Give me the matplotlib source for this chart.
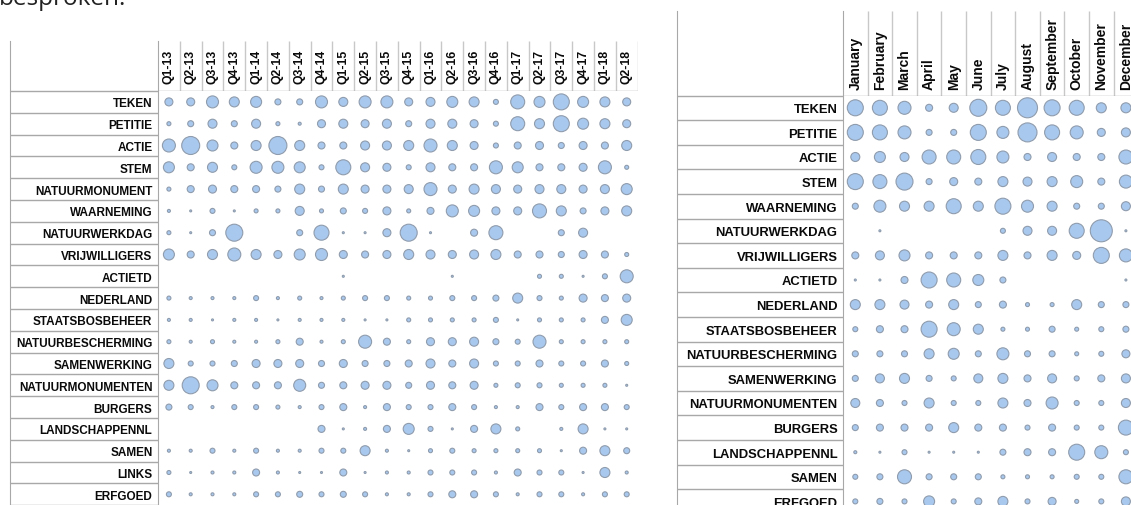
import numpy as np
import matplotlib
matplotlib.use("Agg")
import matplotlib.pyplot as plt

# --- data: bubble weight per term per period ---
quarters = ["Q1-13", "Q2-13", "Q3-13", "Q4-13", "Q1-14", "Q2-14", "Q3-14", "Q4-14",
            "Q1-15", "Q2-15", "Q3-15", "Q4-15", "Q1-16", "Q2-16", "Q3-16", "Q4-16",
            "Q1-17", "Q2-17", "Q3-17", "Q4-17", "Q1-18", "Q2-18"]
months = ["January", "February", "March", "April", "May", "June", "July",
          "August", "September", "October", "November", "December"]

quarter_terms = ["TEKEN", "PETITIE", "ACTIE", "STEM", "NATUURMONUMENT", "WAARNEMING",
                 "NATUURWERKDAG", "VRIJWILLIGERS", "ACTIETD", "NEDERLAND",
                 "STAATSBOSBEHEER", "NATUURBESCHERMING", "SAMENWERKING",
                 "NATUURMONUMENTEN", "BURGERS", "LANDSCHAPPENNL", "SAMEN", "LINKS", "ERFGOED"]
quarter_counts = [
    [8, 8, 12, 10, 11, 6, 6, 12, 9, 12, 12, 8, 9, 11, 10, 5, 14, 11, 16, 11, 10, 8],
    [4, 6, 9, 6, 9, 4, 3, 8, 9, 8, 9, 6, 9, 9, 8, 5, 14, 10, 16, 11, 10, 8],
    [13, 18, 11, 7, 10, 18, 10, 7, 7, 9, 9, 10, 13, 10, 8, 5, 7, 8, 6, 8, 7, 10],
    [11, 7, 10, 5, 12, 12, 11, 5, 15, 9, 8, 5, 9, 7, 7, 13, 11, 7, 7, 8, 13, 4],
    [4, 7, 8, 7, 7, 6, 10, 6, 10, 8, 8, 9, 13, 8, 10, 9, 8, 9, 9, 8, 9, 11],
    [3, 2, 5, 2, 4, 4, 9, 4, 6, 5, 8, 4, 7, 12, 11, 8, 8, 14, 10, 6, 8, 10],
    [4, 2, 6, 17, 0, 0, 6, 15, 2, 2, 8, 17, 2, 0, 7, 14, 0, 0, 6, 9, 0, 0],
    [11, 7, 10, 13, 10, 8, 11, 12, 8, 7, 8, 10, 9, 8, 9, 10, 7, 7, 6, 8, 7, 4],
    [0, 0, 0, 0, 0, 0, 0, 0, 2, 0, 0, 0, 0, 2, 0, 0, 0, 4, 4, 2, 5, 13],
    [4, 3, 3, 3, 5, 3, 4, 3, 4, 5, 5, 4, 4, 5, 5, 6, 10, 5, 4, 8, 7, 8],
    [3, 3, 2, 3, 3, 2, 3, 3, 3, 2, 2, 4, 4, 4, 4, 5, 2, 4, 4, 4, 7, 11],
    [4, 3, 4, 3, 3, 4, 7, 3, 4, 13, 7, 4, 8, 8, 9, 6, 5, 13, 4, 4, 4, 4],
    [10, 5, 5, 6, 8, 8, 8, 6, 8, 6, 6, 7, 9, 7, 9, 5, 5, 7, 5, 5, 7, 4],
    [10, 17, 11, 7, 7, 7, 12, 6, 7, 8, 8, 6, 8, 7, 8, 4, 5, 5, 4, 4, 4, 2],
    [6, 5, 3, 5, 5, 4, 3, 5, 7, 3, 7, 5, 5, 7, 5, 3, 3, 7, 5, 7, 7, 5],
    [0, 0, 0, 0, 0, 0, 0, 7, 2, 3, 7, 11, 5, 2, 7, 10, 4, 0, 3, 10, 2, 2],
    [3, 3, 5, 3, 5, 3, 3, 5, 5, 10, 3, 2, 4, 5, 4, 4, 4, 4, 2, 7, 10, 6],
    [4, 2, 3, 3, 7, 3, 2, 2, 7, 2, 3, 3, 5, 5, 5, 3, 7, 5, 5, 2, 10, 3],
    [5, 3, 3, 3, 5, 5, 6, 5, 6, 5, 3, 3, 5, 7, 7, 5, 3, 5, 5, 3, 5, 5],
]

month_terms = ["TEKEN", "PETITIE", "ACTIE", "STEM", "WAARNEMING", "NATUURWERKDAG",
               "VRIJWILLIGERS", "ACTIETD", "NEDERLAND", "STAATSBOSBEHEER",
               "NATUURBESCHERMING", "SAMENWERKING", "NATUURMONUMENTEN", "BURGERS",
               "LANDSCHAPPENNL", "SAMEN", "ERFGOED"]
month_counts = [
    [16, 15, 13, 7, 9, 17, 15, 20, 16, 15, 10, 10],
    [16, 15, 13, 6, 6, 16, 12, 19, 15, 13, 8, 9],
    [9, 11, 9, 14, 14, 15, 12, 7, 9, 7, 7, 14],
    [16, 14, 17, 6, 8, 7, 10, 9, 10, 12, 7, 13],
    [6, 12, 10, 10, 15, 10, 16, 12, 10, 6, 6, 9],
    [0, 2, 0, 0, 0, 0, 5, 9, 9, 15, 22, 2],
    [7, 9, 11, 7, 7, 7, 10, 7, 10, 8, 16, 13],
    [2, 2, 7, 16, 14, 11, 6, 0, 0, 0, 0, 2],
    [10, 10, 9, 7, 10, 6, 7, 4, 4, 10, 6, 6],
    [5, 7, 7, 16, 13, 10, 4, 4, 6, 4, 5, 6],
    [6, 6, 6, 10, 11, 6, 12, 6, 6, 4, 5, 8],
    [6, 9, 10, 6, 5, 9, 10, 7, 9, 5, 7, 9],
    [9, 7, 5, 10, 5, 5, 10, 7, 12, 5, 5, 9],
    [6, 7, 7, 7, 10, 7, 7, 5, 7, 5, 5, 15],
    [3, 2, 5, 2, 2, 2, 6, 7, 7, 16, 13, 5],
    [5, 6, 14, 6, 6, 6, 4, 4, 4, 5, 5, 14],
    [5, 6, 5, 11, 5, 7, 10, 5, 8, 4, 5, 9],
]

W, H = 1131, 506
FILL = "#a8c8ee"
EDGE = "#8f9cad"
GRID = "#a8a8a8"
HEAD_GRID = "#c8c8c8"
FONT = "Liberation Sans"

fig = plt.figure(figsize=(W / 100, H / 100), dpi=100)


def px_axes(x0, y0, x1, y1):
    # axes placed by screen pixels (origin top-left)
    ax = fig.add_axes([x0 / W, 1 - y1 / H, (x1 - x0) / W, (y1 - y0) / H])
    ax.patch.set_alpha(0)
    return ax


def balloon_panel(terms, cols, counts, lab_x0, col_x0, cell_w, head_top, head_bot,
                  cell_h, label_fs, head_fs, head_gap):
    n_r, n_c = len(terms), len(cols)
    x1 = col_x0 + n_c * cell_w
    y1 = head_bot + n_r * cell_h

    # label column with row rules
    lab = px_axes(lab_x0, head_top, col_x0, y1)
    lab.set_xlim(0, 1)
    lab.set_ylim(n_r - 0.5, -0.5 - (head_bot - head_top) / cell_h)
    lab.hlines(np.arange(-1, n_r) + 0.5, 0, 1, color=GRID, lw=1)
    lab.set_xticks([])
    lab.set_yticks([])
    for side in ("top", "bottom"):
        lab.spines[side].set_visible(False)
    for side in ("left", "right"):
        lab.spines[side].set_color(GRID)

    # column header
    hd = px_axes(col_x0, head_top, x1, head_bot)
    hd.set_xlim(-0.5, n_c - 0.5)
    hd.set_ylim(0, 1)
    hd.vlines(np.arange(n_c) + 0.5, 0, 1, color=HEAD_GRID, lw=1)
    hd.axhline(0, color=GRID, lw=1)
    hd.axis("off")
    for i, c in enumerate(cols):
        hd.annotate(c, (i, 0), xytext=(0, head_gap), textcoords="offset points",
                    rotation=90, ha="center", va="bottom", fontsize=head_fs,
                    fontweight="bold", family=FONT, color="#0a0a0a")

    # bubbles
    ax = px_axes(col_x0, head_bot, x1, y1)
    ax.set_xlim(-0.5, n_c - 0.5)
    ax.set_ylim(n_r - 0.5, -0.5)
    arr = np.array(counts, dtype=float)
    yy, xx = np.nonzero(arr)
    ax.scatter(xx, yy, s=(arr[yy, xx] * 0.72) ** 2, c=FILL, edgecolors=EDGE,
               linewidths=0.8, clip_on=False, zorder=3)
    ax.set_xticks([])
    ax.set_yticks(range(n_r), terms, fontsize=label_fs, fontweight="bold",
                  family=FONT, color="#0a0a0a")
    ax.tick_params(axis="y", length=0, pad=4)
    for sp in ax.spines.values():
        sp.set_visible(False)


balloon_panel(quarter_terms, quarters, quarter_counts, lab_x0=10, col_x0=158,
              cell_w=21.8, head_top=42, head_bot=92, cell_h=21.8,
              label_fs=8.5, head_fs=8.8, head_gap=6)
balloon_panel(month_terms, months, month_counts, lab_x0=677, col_x0=843,
              cell_w=24.6, head_top=12, head_bot=96.5, cell_h=24.6,
              label_fs=9.4, head_fs=10, head_gap=4.5)

fig.text(-0.001, 1 - 5 / H, "besproken.", fontsize=17.5, family="Open Sans",
         color="#222222", ha="left", va="baseline")

fig.savefig("out.png", dpi=100)
